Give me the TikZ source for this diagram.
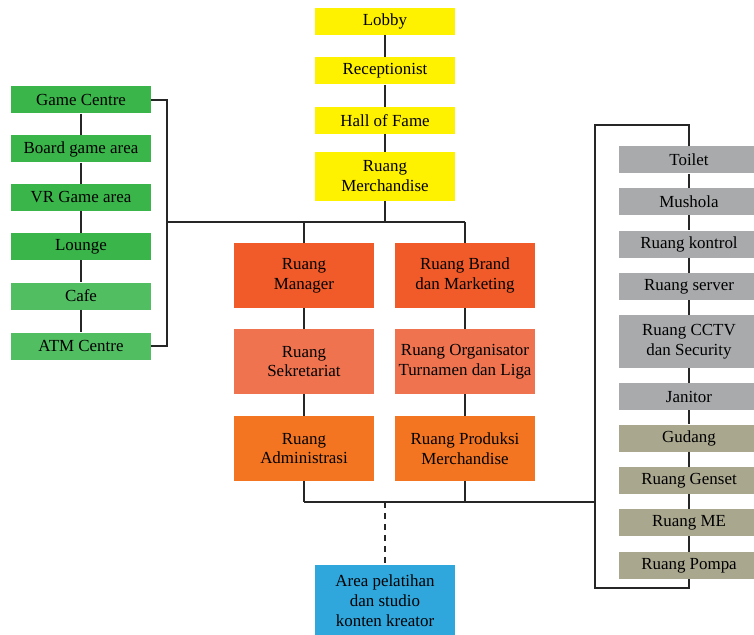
\documentclass[tikz,border=0pt]{standalone}
\usepackage{fontspec}
\setmainfont{Liberation Serif}
\definecolor{lobbyyellow}{HTML}{FFF200}
\definecolor{gamegreen}{HTML}{3AB54A}
\definecolor{cafegreen}{HTML}{52BE62}
\definecolor{mgrorange}{HTML}{F15A29}
\definecolor{sekorange}{HTML}{F07350}
\definecolor{admorange}{HTML}{F47521}
\definecolor{servgray}{HTML}{A9AAAC}
\definecolor{mepgray}{HTML}{A9A78E}
\definecolor{studioblue}{HTML}{2FA6DC}
\definecolor{linkgray}{HTML}{262626}

\begin{document}
\begin{tikzpicture}[x=1bp,y=-1bp,
  room/.style={minimum height=27bp, inner sep=1bp, align=center,
    font=\fontsize{17}{20}\selectfont},
  lobbyroom/.style={room, fill=lobbyyellow, minimum width=140bp},
  gameroom/.style={room, fill=gamegreen, minimum width=139bp},
  officeroom/.style={room, minimum width=140bp, minimum height=65bp},
  serviceroom/.style={room, fill=servgray, minimum width=140bp},
  link/.style={draw=linkgray, line width=1.7bp}]
\useasboundingbox (0,0) rectangle (754,635);

\node[lobbyroom] (lobby) at (385,21.5) {Lobby};
\node[lobbyroom] (recep) at (385,71) {Receptionist};
\node[lobbyroom] (hall) at (385,120.5) {Hall of Fame};
\node[lobbyroom, minimum height=49bp] (merch) at (385,176.5) {Ruang\\Merchandise};

\node[gameroom] (gamec) at (81,100) {Game Centre};
\node[gameroom] (board) at (81,149) {Board game area};
\node[gameroom] (vr) at (81,197.5) {VR Game area};
\node[gameroom] (lounge) at (81,246.5) {Lounge};
\node[gameroom, fill=cafegreen] (cafe) at (81,296) {Cafe};
\node[gameroom, fill=cafegreen] (atm) at (81,346) {ATM Centre};

\node[officeroom, fill=mgrorange] (manager) at (304,275.5) {Ruang\\Manager};
\node[officeroom, fill=sekorange] (sekre) at (304,361.5) {Ruang\\Sekretariat};
\node[officeroom, fill=admorange] (admin) at (304,448.5) {Ruang\\Administrasi};
\node[officeroom, fill=mgrorange] (brand) at (465,275.5) {Ruang Brand\\dan Marketing};
\node[officeroom, fill=sekorange] (organ) at (465,361.5) {Ruang Organisator\\Turnamen dan Liga};
\node[officeroom, fill=admorange] (produksi) at (465,448.5) {Ruang Produksi\\Merchandise};

\node[serviceroom] (toilet) at (689,160) {Toilet};
\node[serviceroom] (mushola) at (689,201.5) {Mushola};
\node[serviceroom] (kontrol) at (689,244) {Ruang kontrol};
\node[serviceroom] (server) at (689,286.5) {Ruang server};
\node[serviceroom, minimum height=53bp] (cctv) at (689,341.5) {Ruang CCTV\\dan Security};
\node[serviceroom] (janitor) at (689,396.5) {Janitor};
\node[serviceroom, fill=mepgray] (gudang) at (689,438) {Gudang};
\node[serviceroom, fill=mepgray] (genset) at (689,480.5) {Ruang Genset};
\node[serviceroom, fill=mepgray] (me) at (689,522.5) {Ruang ME};
\node[serviceroom, fill=mepgray] (pompa) at (689,565.5) {Ruang Pompa};

\node[room, fill=studioblue, minimum width=140bp, minimum height=72bp] (studio) at (385,601)
  {Area pelatihan\\dan studio\\konten kreator};

\coordinate (jtop) at (167,222);
\coordinate (jright) at (465,222);
\coordinate (jbot) at (595,502);
\coordinate (rtop) at (595,125);
\coordinate (rbot) at (595,588);

\draw[link] (lobby) -- (recep) -- (hall) -- (merch) -- (merch.south |- jtop);
\draw[link] (jtop) -- (jright);
\draw[link] (gamec) -- (board) -- (vr) -- (lounge) -- (cafe) -- (atm);
\draw[link] (gamec.east) -| (jtop);
\draw[link] (atm.east) -| (jtop);
\draw[link] (manager.north |- jtop) -- (manager) -- (sekre) -- (admin) -- (admin.south |- jbot);
\draw[link] (jright) -- (brand) -- (organ) -- (produksi) -- (produksi.south |- jbot);
\draw[link] (admin.south |- jbot) -- (jbot);
\draw[link] (toilet.north) |- (rtop) -- (rbot) -| (pompa.south);
\draw[link] (toilet) -- (mushola) -- (kontrol) -- (server) -- (cctv) -- (janitor)
  -- (gudang) -- (genset) -- (me) -- (pompa);
\draw[link, dashed, dash pattern=on 6bp off 5bp] (studio.north |- jbot) -- (studio.north);
\end{tikzpicture}
\end{document}
